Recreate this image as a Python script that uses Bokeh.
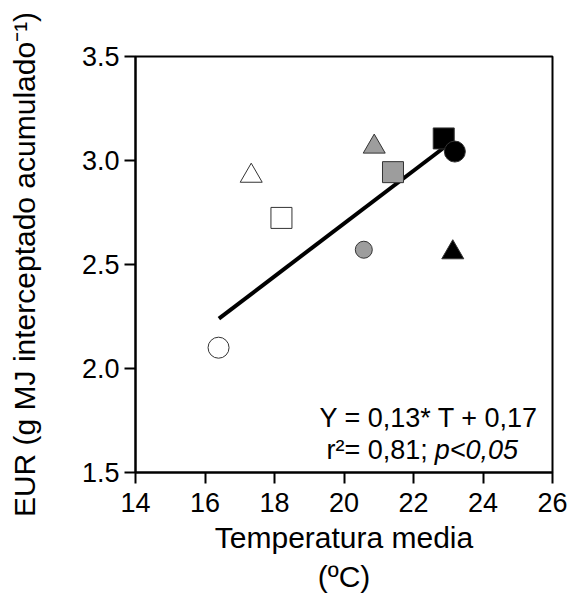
from bokeh.plotting import figure
from bokeh.models import ColumnDataSource, Range1d, FixedTicker, Label
from bokeh.embed import file_html
from bokeh.resources import INLINE

# ---- data ----
temp = [16.39, 17.33, 18.2, 20.57, 20.87, 21.41, 22.87, 23.19, 23.13]
eur = [2.10, 2.926, 2.724, 2.571, 3.066, 2.944, 3.106, 3.043, 2.558]
shapes = ["circle", "triangle", "square", "circle", "triangle", "square", "square", "circle", "triangle"]
fills = ["white", "white", "white", "#9d9d9d", "#9d9d9d", "#9d9d9d", "black", "black", "black"]
sizes = [21, 22, 21, 17, 22, 21, 21, 21, 22]

fit_x = [16.4, 22.9]
fit_y = [2.24, 3.065]

x_ticks = [14, 16, 18, 20, 22, 24, 26]
y_ticks = [1.5, 2.0, 2.5, 3.0, 3.5]

FONT = "Liberation Sans"

p = figure(width=571, height=598, output_backend="svg", toolbar_location=None,
           x_range=Range1d(14, 26), y_range=Range1d(1.5, 3.5),
           min_border_left=135, min_border_right=19, min_border_top=56, min_border_bottom=126)
p.background_fill_color = "white"
p.border_fill_color = "white"
p.outline_line_color = "black"
p.outline_line_width = 2
p.grid.visible = False

# regression line
p.line(fit_x, fit_y, line_color="black", line_width=4)

src = ColumnDataSource(dict(x=temp, y=eur, marker=shapes, fill=fills, size=sizes))
p.scatter("x", "y", source=src, marker="marker", size="size", fill_color="fill",
          line_color="#333333", line_width=1)

for ax in (p.xaxis[0], p.yaxis[0]):
    ax.axis_line_width = 2
    ax.major_tick_line_width = 2
    ax.major_tick_out = 11
    ax.major_tick_in = 0
    ax.minor_tick_line_color = None
    ax.major_label_text_font = FONT
    ax.major_label_text_font_size = "27px"
    ax.major_label_text_color = "black"
    ax.axis_label_text_font = FONT
    ax.axis_label_text_font_size = "30px"
    ax.axis_label_text_font_style = "normal"
    ax.axis_label_text_color = "black"

p.xaxis.ticker = FixedTicker(ticks=x_ticks)
p.yaxis.ticker = FixedTicker(ticks=y_ticks)
p.xaxis.major_label_overrides = {t: str(t) for t in x_ticks}
p.yaxis.major_label_overrides = {t: f"{t:.1f}" for t in y_ticks}
p.xaxis.major_label_standoff = 9
p.yaxis.major_label_standoff = 5
p.xaxis.axis_label = "Temperatura media\n(ºC)"
p.yaxis.axis_label = "EUR (g MJ interceptado acumulado⁻¹)"
p.xaxis.axis_label_standoff = 6
p.yaxis.axis_label_standoff = 38

# equation annotation
p.add_layout(Label(x=25.6, y=1.76, text="Y = 0,13* T + 0,17", text_align="right",
                   text_baseline="alphabetic", text_font=FONT, text_font_size="27px",
                   text_color="black"))
p.add_layout(Label(x=22.41, y=1.607, text="r²= 0,81;", text_align="right",
                   text_baseline="alphabetic", text_font=FONT, text_font_size="27px",
                   text_color="black"))
p.add_layout(Label(x=22.61, y=1.607, text="p<0,05", text_align="left",
                   text_baseline="alphabetic", text_font=FONT, text_font_size="27px",
                   text_font_style="italic", text_color="black"))

open("out.html", "w").write(file_html(p, INLINE))
